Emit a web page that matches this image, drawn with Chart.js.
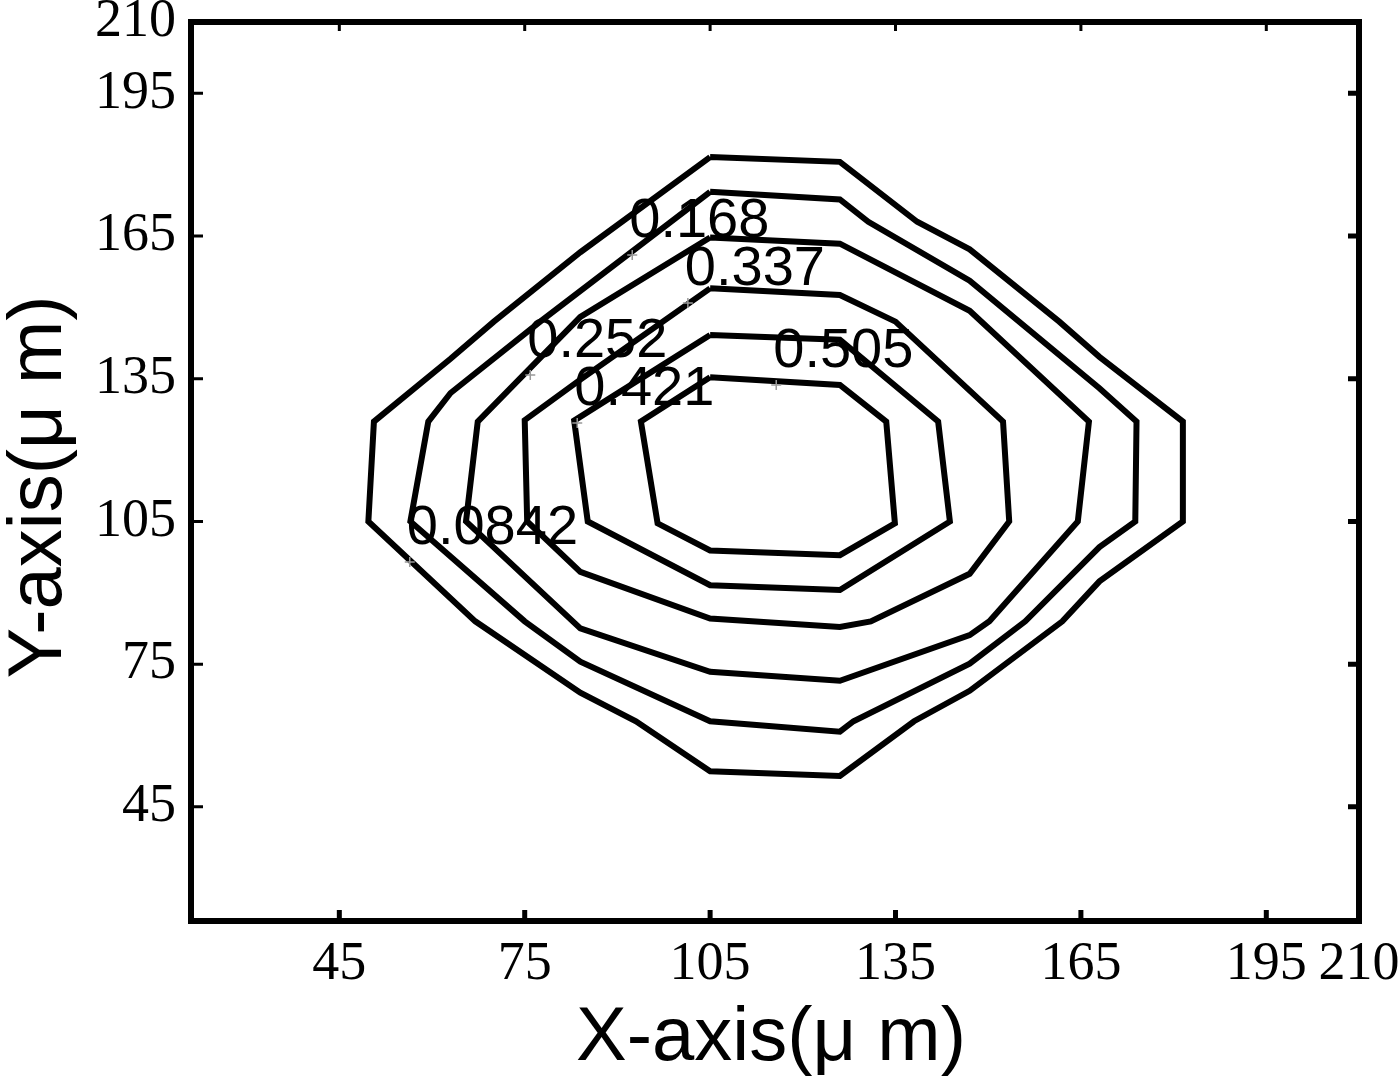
<!DOCTYPE html>
<html>
<head>
<meta charset="utf-8">
<title>Contour</title>
<script src="https://cdn.jsdelivr.net/npm/chart.js@4.4.0/dist/chart.umd.min.js"></script>
<style>
  html, body { margin: 0; padding: 0; background: #fff; }
  canvas { display: block; }
</style>
</head>
<body>
<canvas id="contourChart" width="1400" height="1081"></canvas>
<script>
  // tick values on both axes (um)
  const tickValues = [45, 75, 105, 135, 165, 195, 210];

  // contour levels, outermost first
  const levels = ['0.0842', '0.168', '0.252', '0.337', '0.421', '0.505'];

  // one closed polygon per level
  const c0842X = [105, 126, 138.5, 147, 161.5, 168, 181.5, 181.5, 168, 162, 147, 138, 126, 105, 93, 84, 67, 49.7, 50.6, 63, 70, 84, 105];
  const c0842Y = [181.6, 180.6, 168, 162.2, 147, 139.6, 126, 105, 92.4, 84, 69.4, 63, 51.5, 52.5, 63, 69, 84, 105, 126, 139.2, 147, 161.6, 181.6];

  const c168X = [105, 126, 130.6, 147, 168, 174, 173.8, 168, 156, 147, 128.2, 126, 105, 84, 75, 56.5, 59.4, 63, 77.5, 105];
  const c168Y = [174.3, 172.7, 168, 155.6, 133, 126, 105, 99.6, 84, 75.1, 63, 60.8, 63, 75.5, 84, 105, 126, 132, 147, 174.3];

  const c252X = [105, 126, 147, 166.3, 164.5, 150.2, 147, 126, 105, 84, 65.5, 67.4, 84, 105];
  const c252Y = [164.7, 163.4, 149.3, 126, 105, 84, 81.1, 71.5, 73.4, 82.5, 105, 126, 148, 164.7];

  const c337X = [105, 126, 135, 152.4, 153.4, 147, 131, 126, 105, 84, 75.4, 75, 84, 105];
  const c337Y = [154, 152.6, 147, 126, 105, 94, 84, 82.8, 84.6, 94.4, 105, 126.3, 134.8, 154];

  const c421X = [105, 126, 141.9, 143.8, 126, 105, 85.2, 83, 105];
  const c421Y = [144.2, 143.2, 126, 105, 90.6, 91.6, 105, 126.2, 144.2];

  const c505X = [105, 126, 133.5, 134.9, 126, 105, 96.5, 93.8, 105];
  const c505Y = [135.3, 133.7, 126, 104.6, 97.9, 98.9, 104.6, 126, 135.3];

  // clabel anchor points (the little + marks), same order as levels
  const labelX = [56.4, 92.4, 75.9, 101.4, 83.5, 115.7];
  const labelY = [96.5, 161, 135.8, 150.9, 125.7, 133.7];

  const polys = [[c0842X, c0842Y], [c168X, c168Y], [c252X, c252Y], [c337X, c337Y], [c421X, c421Y], [c505X, c505Y]];

  const toPoints = (xs, ys) => xs.map((x, i) => ({ x: x, y: ys[i] }));

  const datasets = polys.map((p, i) => ({
    label: levels[i],
    data: toPoints(p[0], p[1]),
    showLine: true,
    fill: false,
    tension: 0,
    pointRadius: 0,
    borderColor: '#000',
    borderWidth: 6,
    borderJoinStyle: 'miter',
  }));

  // frame, inward ticks, contour labels and axis titles
  const matlabFrame = {
    id: 'matlabFrame',
    afterDatasetsDraw(chart) {
      const ctx = chart.ctx;
      const a = chart.chartArea;
      const xs = chart.scales.x;
      const ys = chart.scales.y;
      ctx.save();

      // contour labels
      ctx.font = '56px "Liberation Sans", Arial, sans-serif';
      ctx.fillStyle = '#000';
      ctx.textAlign = 'left';
      ctx.textBaseline = 'alphabetic';
      for (let i = 0; i < levels.length; i++) {
        const px = xs.getPixelForValue(labelX[i]);
        const py = ys.getPixelForValue(labelY[i]);
        ctx.strokeStyle = '#999';
        ctx.lineWidth = 1.5;
        ctx.beginPath();
        ctx.moveTo(px - 5, py); ctx.lineTo(px + 5, py);
        ctx.moveTo(px, py - 5); ctx.lineTo(px, py + 5);
        ctx.stroke();
        ctx.fillText(levels[i], px - 3, py - 18);
      }

      // ticks
      ctx.strokeStyle = '#000';
      tickValues.forEach((v) => {
        const px = xs.getPixelForValue(v);
        const py = ys.getPixelForValue(v);
        ctx.lineWidth = 5;
        ctx.beginPath();
        ctx.moveTo(px, a.bottom); ctx.lineTo(px, a.bottom - 11);
        ctx.moveTo(a.right, py); ctx.lineTo(a.right - 11, py);
        ctx.stroke();
        ctx.lineWidth = 3;
        ctx.beginPath();
        ctx.moveTo(a.left, py); ctx.lineTo(a.left + 12, py);
        ctx.moveTo(px, a.top); ctx.lineTo(px, a.top + 9);
        ctx.stroke();
      });

      // frame
      ctx.lineWidth = 6;
      ctx.strokeRect(a.left, a.top, a.right - a.left, a.bottom - a.top);

      // axis titles
      ctx.font = '76px "Liberation Sans", Arial, sans-serif';
      ctx.textAlign = 'center';
      ctx.textBaseline = 'alphabetic';
      ctx.fillText('X-axis(\u03bc m)', 771, 1060);
      ctx.translate(61, 487);
      ctx.rotate(-Math.PI / 2);
      ctx.fillText('Y-axis(\u03bc m)', 0, 0);
      ctx.restore();
    },
  };

  const fixAxis = (size) => (scale) => {
    if (scale.isHorizontal()) scale.height = size; else scale.width = size;
    scale.paddingTop = 0;
    scale.paddingBottom = 0;
    scale.paddingLeft = 0;
    scale.paddingRight = 0;
  };

  const setTicks = (scale) => {
    scale.ticks = tickValues.map((v) => ({ value: v }));
  };

  new Chart(document.getElementById('contourChart'), {
    type: 'scatter',
    data: { datasets: datasets },
    plugins: [matlabFrame],
    options: {
      responsive: false,
      animation: false,
      layout: { padding: { left: 0, top: 22, right: 41, bottom: 0 } },
      plugins: { legend: { display: false }, tooltip: { enabled: false } },
      scales: {
        x: {
          type: 'linear',
          min: 21,
          max: 210,
          afterBuildTicks: setTicks,
          afterFit: fixAxis(160),
          grid: { display: false, drawTicks: false },
          border: { display: false },
          ticks: {
            autoSkip: false,
            maxRotation: 0,
            padding: 11,
            color: '#000',
            font: { family: '"Liberation Serif", "Times New Roman", serif', size: 54 },
          },
        },
        y: {
          type: 'linear',
          min: 21,
          max: 210,
          afterBuildTicks: setTicks,
          afterFit: fixAxis(191),
          grid: { display: false, drawTicks: false },
          border: { display: false },
          ticks: {
            autoSkip: false,
            padding: 15,
            color: '#000',
            font: { family: '"Liberation Serif", "Times New Roman", serif', size: 54 },
          },
        },
      },
    },
  });
</script>
</body>
</html>
